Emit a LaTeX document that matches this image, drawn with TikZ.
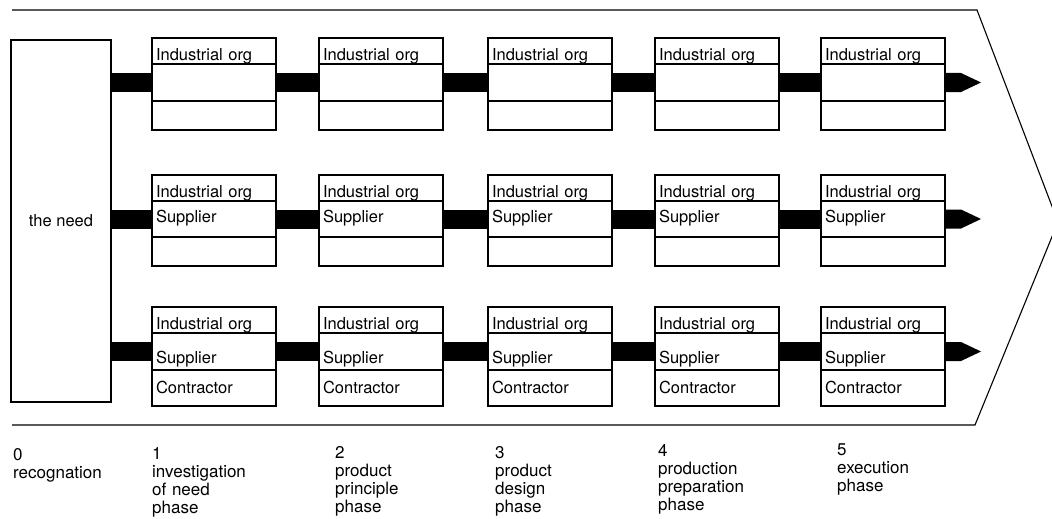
\documentclass[tikz,border=0pt]{standalone}
\usepackage{fontspec}
\setmainfont{TeX Gyre Heros}
\usetikzlibrary{positioning}

\tikzset{
  cell/.style 2 args={draw, line width=1.1pt, outer sep=0pt, text width=116pt,
    inner xsep=4pt, inner ysep=0pt, text height=#1, text depth=#2, align=left,
    font=\fontsize{16.5}{18}\selectfont},
  bar/.style={line width=19pt, black},
  phase/.style={anchor=base west, text width=120pt, align=left, inner sep=0pt,
    font=\fontsize{17}{18}\selectfont},
}

\begin{document}
\begin{tikzpicture}[x=1pt, y=-1pt]
  \useasboundingbox (0,0) rectangle (1052,519);
  % the big arrow round everything
  \draw[line width=1.1pt] (12,10) -- (977,10) -- (1058,222) -- (975,425) -- (12,425);
  \node[draw, line width=1.1pt, outer sep=0pt, minimum width=100pt, minimum height=362pt,
    font=\fontsize{16.5}{18}\selectfont] (need) at (61,221) {the need};
  % three rows of boxes
  \foreach \row/\ytop/\midh/\midd/\both/\botd/\midtxt/\bottxt in
      {1/38/33/4/25/4/{}/{}, 2/175/21/15/25/4/Supplier/{}, 3/307/30/7/23/13/Supplier/Contractor} {
    \foreach \col/\x in {1/152, 2/319, 3/488, 4/655, 5/821} {
      \node[cell={22pt}{4pt}, anchor=north west] (r\row-\col-top) at (\x,\ytop) {Industrial org};
      \node[cell={\midh pt}{\midd pt}, below=0pt of r\row-\col-top] (r\row-\col-mid) {\midtxt};
      \node[cell={\both pt}{\botd pt}, below=0pt of r\row-\col-mid] (r\row-\col-bot) {\bottxt};
    }
  }
  % thick bars between the boxes
  \foreach \row in {1,2,3} {
    \draw[bar] (need.east |- r\row-1-mid.west) -- (r\row-1-mid.west);
    \foreach \col [remember=\col as \lastcol (initially 1)] in {2,...,5}
      \draw[bar] (r\row-\lastcol-mid.east) -- (r\row-\col-mid.west);
    \coordinate (r\row-tip) at ([xshift=36pt]r\row-5-mid.east);
    \fill ([yshift=9.5pt]r\row-5-mid.east) -- ([shift={(16pt,9.5pt)}]r\row-5-mid.east)
      -- (r\row-tip) -- ([shift={(16pt,-9.5pt)}]r\row-5-mid.east)
      -- ([yshift=-9.5pt]r\row-5-mid.east) -- cycle;
  }
  % phases
  \foreach \x/\y/\txt [count=\i from 0] in {13/460/{0\\recognation},
      152/459/{1\\investigation\\of need\\phase}, 335/458/{2\\product\\principle\\phase},
      495/458/{3\\product\\design\\phase}, 658/456/{4\\production\\preparation\\phase},
      837/455/{5\\execution\\phase}}
    \node[phase] (ph\i) at (\x,\y) {\txt};
\end{tikzpicture}
\end{document}
